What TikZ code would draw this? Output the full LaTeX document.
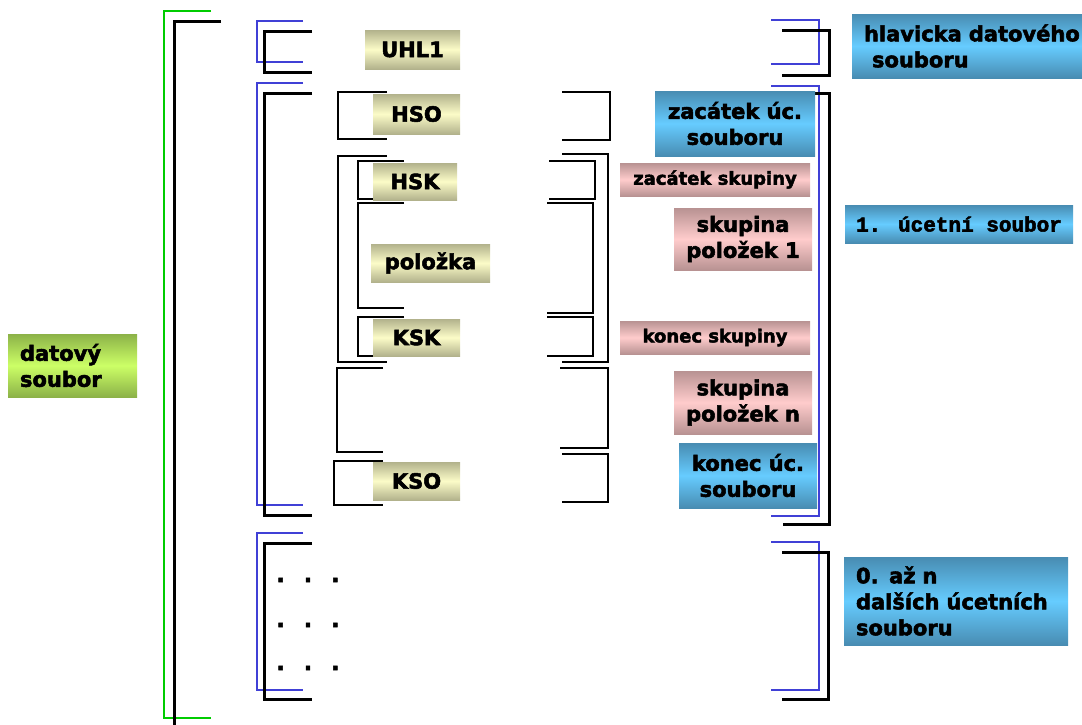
\documentclass[tikz,border=0pt]{standalone}
\usepackage{fontspec}
\setmainfont{DejaVu Sans}[BoldFeatures={FakeBold=2.5}]
\newfontfamily\monofont{Liberation Mono}[BoldFeatures={FakeBold=2.5}]
\usetikzlibrary{positioning}

\definecolor{khakiD}{RGB}{178,178,140}
\definecolor{khakiL}{RGB}{252,252,200}
\definecolor{blueD}{RGB}{72,140,178}
\definecolor{blueL}{RGB}{102,204,255}
\definecolor{pinkD}{RGB}{184,146,146}
\definecolor{pinkL}{RGB}{255,204,204}
\definecolor{greenD}{RGB}{140,178,72}
\definecolor{greenL}{RGB}{204,255,102}
\definecolor{brblue}{RGB}{64,64,214}
\definecolor{brgreen}{RGB}{0,204,0}

\tikzset{
  box/.style={inner sep=0pt, align=center, font=\fontsize{21}{26}\selectfont\bfseries},
  rec/.style={box, top color=khakiD, bottom color=khakiD, middle color=khakiL},
  ucet/.style={box, top color=blueD, bottom color=blueD, middle color=blueL},
  skup/.style={box, top color=pinkD, bottom color=pinkD, middle color=pinkL},
  soub/.style={box, top color=greenD, bottom color=greenD, middle color=greenL},
  small/.style={font=\fontsize{18}{22}\selectfont\bfseries},
  brk/.style={line width=1.6pt, black},
  brkthick/.style={line width=3pt, black},
  brkblue/.style={line width=2pt, brblue},
  dotrow/.style={inner sep=0pt, font=\fontsize{22}{26}\selectfont\bfseries},
}

\begin{document}
\begin{tikzpicture}[x=1pt,y=-1pt]
\useasboundingbox (0,0) rectangle (1082,724);

% datovy soubor
\draw[line width=2pt, brgreen] (211,11) -| (164,718) -- (211,718);
\draw[brkthick] (221,21) -| (174,726);

% hlavicka, ucetni soubory, dalsi
\foreach \xa/\xb/\ya/\yb in {303/257/21/62, 771/819/20/64, 303/257/83/505,
    771/819/86/516, 303/257/533/690, 771/819/542/690}
  \draw[brkblue] (\xa,\ya) -| (\xb,\yb) -- (\xa,\yb);
\foreach \xa/\xb/\ya/\yb in {312/264/31/72, 782/829/30/75, 312/264/93/515,
    783/829/93/524, 312/264/543/699, 782/828/552/699}
  \draw[brkthick] (\xa,\ya) -| (\xb,\yb) -- (\xa,\yb);

% vety a skupiny
\foreach \xa/\xb/\ya/\yb in {387/338/92/139, 562/610/92/140,
    387/338/156/362, 562/608/154/362,
    404/358/161/199, 549/595/161/199,
    404/358/203/308, 547/593/203/313,
    404/358/317/356, 547/593/317/356,
    383/337/368/452, 560/608/368/448,
    383/334/461/505, 562/608/454/502}
  \draw[brk] (\xa,\ya) -| (\xb,\yb) -- (\xa,\yb);

% vety
\node[rec, minimum width=95pt, minimum height=39pt] (uhl) at (412.5,49.5) {UHL1};
\node[rec, minimum width=87pt, minimum height=40pt] (hso) at (416.5,114) {HSO};
\node[rec, minimum width=84pt, minimum height=37pt] (hsk) at (415,181.5) {HSK};
\node[rec, minimum width=119pt, minimum height=38pt] (pol) at (430.5,263) {položka};
\node[rec, minimum width=87pt, minimum height=37pt] (ksk) at (416.5,337.5) {KSK};
\node[rec, minimum width=87pt, minimum height=38pt] (kso) at (416.5,481) {KSO};

\foreach \y [count=\i] in {580,625,668}
  \node[dotrow] (dots\i) at (308,\y) {.\hspace{19pt}.\hspace{19pt}.};

% popisky
\node[ucet, minimum width=244pt, minimum height=64pt, text width=220pt,
  align=left, inner xsep=12pt] (hlav) at (974,46) {hlavicka datového\\\hspace*{8pt}souboru};
\node[ucet, minimum width=160pt, minimum height=65pt] (zuc) at (735,123.5) {zacátek úc.\\souboru};
\node[skup, small, minimum width=190pt, minimum height=33pt] (zsk) at (715,179.5) {zacátek skupiny};
\node[skup, minimum width=138pt, minimum height=62pt] (sp1) at (743,239) {skupina\\položek 1};
\node[ucet, font=\fontsize{21}{26}\selectfont\monofont\bfseries,
  minimum width=228pt, minimum height=38pt] (ucs) at (959,224) {1. úcetní soubor};
\node[skup, small, minimum width=190pt, minimum height=33pt] (ksp) at (715,337.5) {konec skupiny};
\node[skup, minimum width=138pt, minimum height=63pt] (spn) at (743,402.5) {skupina\\položek n};
\node[ucet, minimum width=138pt, minimum height=65pt] (kuc) at (748,475.5) {konec úc.\\souboru};
\node[ucet, minimum width=224pt, minimum height=88pt, text width=200pt,
  align=left, inner xsep=12pt] (dal) at (956,601) {0. až n\\dalších úcetních\\souboru};
\node[soub, minimum width=129pt, minimum height=63pt, text width=105pt,
  align=left, inner xsep=12pt] (dat) at (72.5,365.5) {datový\\soubor};
\end{tikzpicture}
\end{document}
